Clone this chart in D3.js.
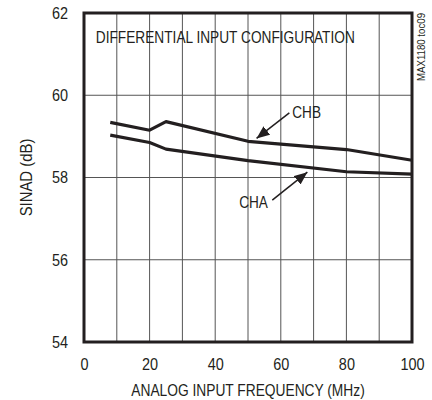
<!DOCTYPE html>
<html>
<head>
<meta charset="utf-8">
<script src="https://cdn.jsdelivr.net/npm/d3@7"></script>
<style>
  body { margin: 0; background: #fff; }
  text { font-family: "Liberation Sans Narrow", "Liberation Sans", Arial, sans-serif; fill: #231f20; }
</style>
</head>
<body>
<div id="chart"></div>
<script>
// Data
const freqMHz = [8, 20, 25, 50, 80, 100]
const chbSinad = [59.34, 59.15, 59.36, 58.88, 58.68, 58.42]
const chaSinad = [59.03, 58.85, 58.69, 58.41, 58.14, 58.08]
const xTicks = [0, 20, 40, 60, 80, 100]
const yTicks = [54, 56, 58, 60, 62]
const xGrid = [10, 20, 30, 40, 50, 60, 70, 80, 90]
const yGrid = [56, 58, 60]

// annotations in data units: [label, textX, textY, tailX, tailY, headX, headY]
const notes = [
    ['CHB', 63.5, 59.45, 62.6, 59.57, 52.6, 58.95],
    ['CHA', 47.3, 57.26, 57.4, 57.45, 68.1, 58.13],
]

// the original uses a narrow typeface; squeeze the glyphs horizontally
function squeeze(sel, k){
    sel.each(function(){
        const w = this.getComputedTextLength()
        d3.select(this)
            .attr('textLength', w * k)
            .attr('lengthAdjust', 'spacingAndGlyphs')
    })
}

function draw(){
    const dimensions = {
        width: 432,
        height: 400,
        margin: { top: 13, right: 20, bottom: 58, left: 84 },
    }
    const ctrW = dimensions.width - dimensions.margin.left - dimensions.margin.right
    const ctrH = dimensions.height - dimensions.margin.top - dimensions.margin.bottom

    const svg = d3.select('#chart')
        .append('svg')
        .attr('width', dimensions.width)
        .attr('height', dimensions.height)

    svg.append('defs').append('marker')
        .attr('id', 'head')
        .attr('markerUnits', 'userSpaceOnUse')
        .attr('viewBox', '0 0 12 10')
        .attr('refX', 12).attr('refY', 5)
        .attr('markerWidth', 13).attr('markerHeight', 11)
        .attr('orient', 'auto')
        .append('path')
        .attr('d', 'M0,0 L12,5 L0,10 Z')
        .attr('fill', '#231f20')

    const ctr = svg.append('g')
        .attr('transform', `translate(${dimensions.margin.left}, ${dimensions.margin.top})`)

    // scales
    const xScale = d3.scaleLinear().domain([0, 100]).range([0, ctrW])
    const yScale = d3.scaleLinear().domain([54, 62]).range([ctrH, 0])

    // grid
    ctr.append('g').selectAll('line')
        .data(xGrid)
        .join('line')
        .attr('x1', d => xScale(d)).attr('x2', d => xScale(d))
        .attr('y1', 0).attr('y2', ctrH)
        .attr('stroke', '#555').attr('stroke-width', 1)
    ctr.append('g').selectAll('line')
        .data(yGrid)
        .join('line')
        .attr('x1', 0).attr('x2', ctrW)
        .attr('y1', d => yScale(d)).attr('y2', d => yScale(d))
        .attr('stroke', '#555').attr('stroke-width', 1)

    // frame
    ctr.append('rect')
        .attr('width', ctrW).attr('height', ctrH)
        .attr('fill', 'none')
        .attr('stroke', '#231f20')
        .attr('stroke-width', 3)

    // axes (labels only)
    const xAxis = d3.axisBottom(xScale).tickValues(xTicks).tickSize(0).tickPadding(16)
    const gx = ctr.append('g')
        .attr('transform', `translate(0, ${ctrH})`)
        .call(xAxis)
    const yAxis = d3.axisLeft(yScale).tickValues(yTicks).tickSize(0).tickPadding(16)
    const gy = ctr.append('g').call(yAxis)
    for (const g of [gx, gy]) {
        g.select('.domain').remove()
        g.selectAll('text').attr('font-size', 17).attr('font-family', null)
            .call(squeeze, 0.85)
    }

    // series
    const line = d3.line()
        .x((d, i) => xScale(freqMHz[i]))
        .y(d => yScale(d))
    for (const s of [chbSinad, chaSinad]) {
        ctr.append('path')
            .datum(s)
            .attr('d', line)
            .attr('fill', 'none')
            .attr('stroke', '#231f20')
            .attr('stroke-width', 3.2)
            .attr('stroke-linejoin', 'round')
    }

    // title
    ctr.append('text')
        .attr('x', xScale(3.6)).attr('y', yScale(61.27))
        .attr('font-size', 17)
        .text('DIFFERENTIAL INPUT CONFIGURATION')
        .call(squeeze, 0.805)

    // annotations
    ctr.append('g').selectAll('line')
        .data(notes)
        .join('line')
        .attr('x1', d => xScale(d[3])).attr('y1', d => yScale(d[4]))
        .attr('x2', d => xScale(d[5])).attr('y2', d => yScale(d[6]))
        .attr('stroke', '#231f20').attr('stroke-width', 1.5)
        .attr('marker-end', 'url(#head)')
    ctr.append('g').selectAll('text')
        .data(notes)
        .join('text')
        .attr('x', d => xScale(d[1])).attr('y', d => yScale(d[2]))
        .attr('font-size', 17)
        .text(d => d[0])
        .call(squeeze, 0.8)

    // axis titles
    svg.append('text')
        .attr('transform', `translate(32, ${dimensions.margin.top + ctrH / 2}) rotate(-90)`)
        .attr('text-anchor', 'middle')
        .attr('font-size', 16)
        .text('SINAD (dB)')
        .call(squeeze, 0.93)
    svg.append('text')
        .attr('x', dimensions.margin.left + ctrW / 2)
        .attr('y', 396)
        .attr('text-anchor', 'middle')
        .attr('font-size', 16)
        .text('ANALOG INPUT FREQUENCY (MHz)')
        .call(squeeze, 0.86)

    svg.append('text')
        .attr('transform', `translate(425, 13) rotate(-90)`)
        .attr('text-anchor', 'end')
        .attr('font-size', 10.5)
        .text('MAX1180 toc09')
        .call(squeeze, 0.92)
}

draw()
</script>
</body>
</html>
